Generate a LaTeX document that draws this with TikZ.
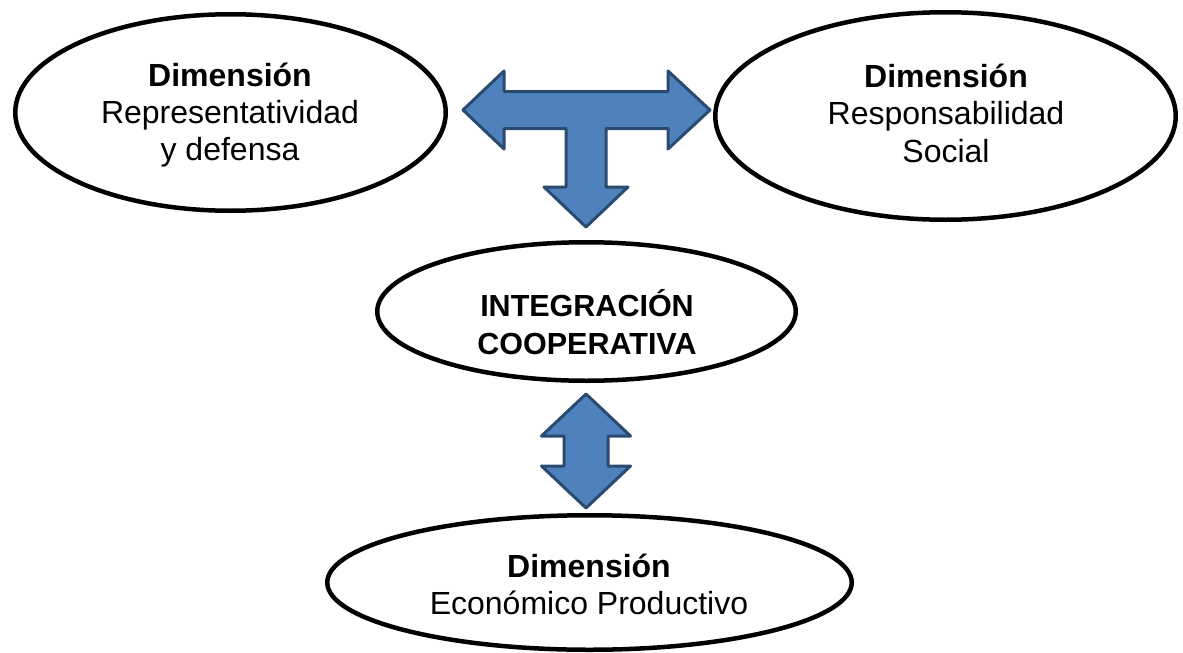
\documentclass[tikz,border=0pt]{standalone}
\usepackage{fontspec}
\setmainfont{Liberation Sans}
\usetikzlibrary{shapes.geometric,calc}
\definecolor{arrfill}{HTML}{4F81BD}
\definecolor{arrline}{HTML}{2B4A70}
\tikzset{
  dimell/.style={ellipse, draw=black, line width=4.5pt, fill=white, inner sep=0pt, outer sep=0pt},
  txt/.style={anchor=base, inner sep=0pt, font=\fontsize{32}{37}\selectfont},
  txtb/.style={txt, font=\fontsize{32}{37}\selectfont\bfseries},
  txtm/.style={txt, font=\fontsize{30.5}{37}\selectfont\bfseries},
  blockarrow/.style={fill=arrfill, draw=arrline, line width=3pt, line join=round}
}
\begin{document}
\begin{tikzpicture}[x=1pt,y=-1pt]
\useasboundingbox (0,0) rectangle (1183,653);
% ellipses
\node[dimell, minimum width=430.5pt, minimum height=196.5pt] (rep) at (230.5,112.5) {};
\node[dimell, minimum width=460.5pt, minimum height=207.5pt] (res) at (945.5,116) {};
\node[dimell, minimum width=418.5pt, minimum height=138.5pt] (int) at (586.5,311.5) {};
\node[dimell, minimum width=524.5pt, minimum height=134.5pt] (eco) at (589.5,582.5) {};
% texts
\node[txtb] (rep1) at (230,86) {Dimensión};
\node[txt]  (rep2) at (230,123) {Representatividad};
\node[txt]  (rep3) at (230,160) {y defensa};
\node[txtb] (res1) at (946,87) {Dimensión};
\node[txt]  (res2) at (946,124.5) {Responsabilidad};
\node[txt]  (res3) at (946,162) {Social};
\node[txtm] (int1) at (587,316) {INTEGRACIÓN};
\node[txtm] (int2) at (587,354) {COOPERATIVA};
\node[txtb] (eco1) at (589,577) {Dimensión};
\node[txt]  (eco2) at (589,614) {Económico Productivo};
% T-shaped block arrow
\coordinate (tc) at (586,110);
\draw[blockarrow] ($(tc)+(-123,0)$) -- ($(tc)+(-82,-39)$) -- ($(tc)+(-82,-18.5)$)
  -- ($(tc)+(82,-18.5)$) -- ($(tc)+(82,-39)$) -- ($(tc)+(124,0)$)
  -- ($(tc)+(82,39)$) -- ($(tc)+(82,18.5)$) -- ($(tc)+(20,18.5)$)
  -- ($(tc)+(20,77)$) -- ($(tc)+(42,77)$) -- ($(tc)+(0,117)$)
  -- ($(tc)+(-42,77)$) -- ($(tc)+(-20,77)$) -- ($(tc)+(-20,18.5)$)
  -- ($(tc)+(-82,18.5)$) -- ($(tc)+(-82,39)$) -- cycle;
% vertical double block arrow
\coordinate (vc) at (586,451);
\draw[blockarrow] ($(vc)+(0,-57)$) -- ($(vc)+(44.5,-15)$) -- ($(vc)+(22,-15)$)
  -- ($(vc)+(22,15)$) -- ($(vc)+(44.5,15)$) -- ($(vc)+(0,57)$)
  -- ($(vc)+(-44.5,15)$) -- ($(vc)+(-22,15)$) -- ($(vc)+(-22,-15)$)
  -- ($(vc)+(-44.5,-15)$) -- cycle;
\end{tikzpicture}
\end{document}
